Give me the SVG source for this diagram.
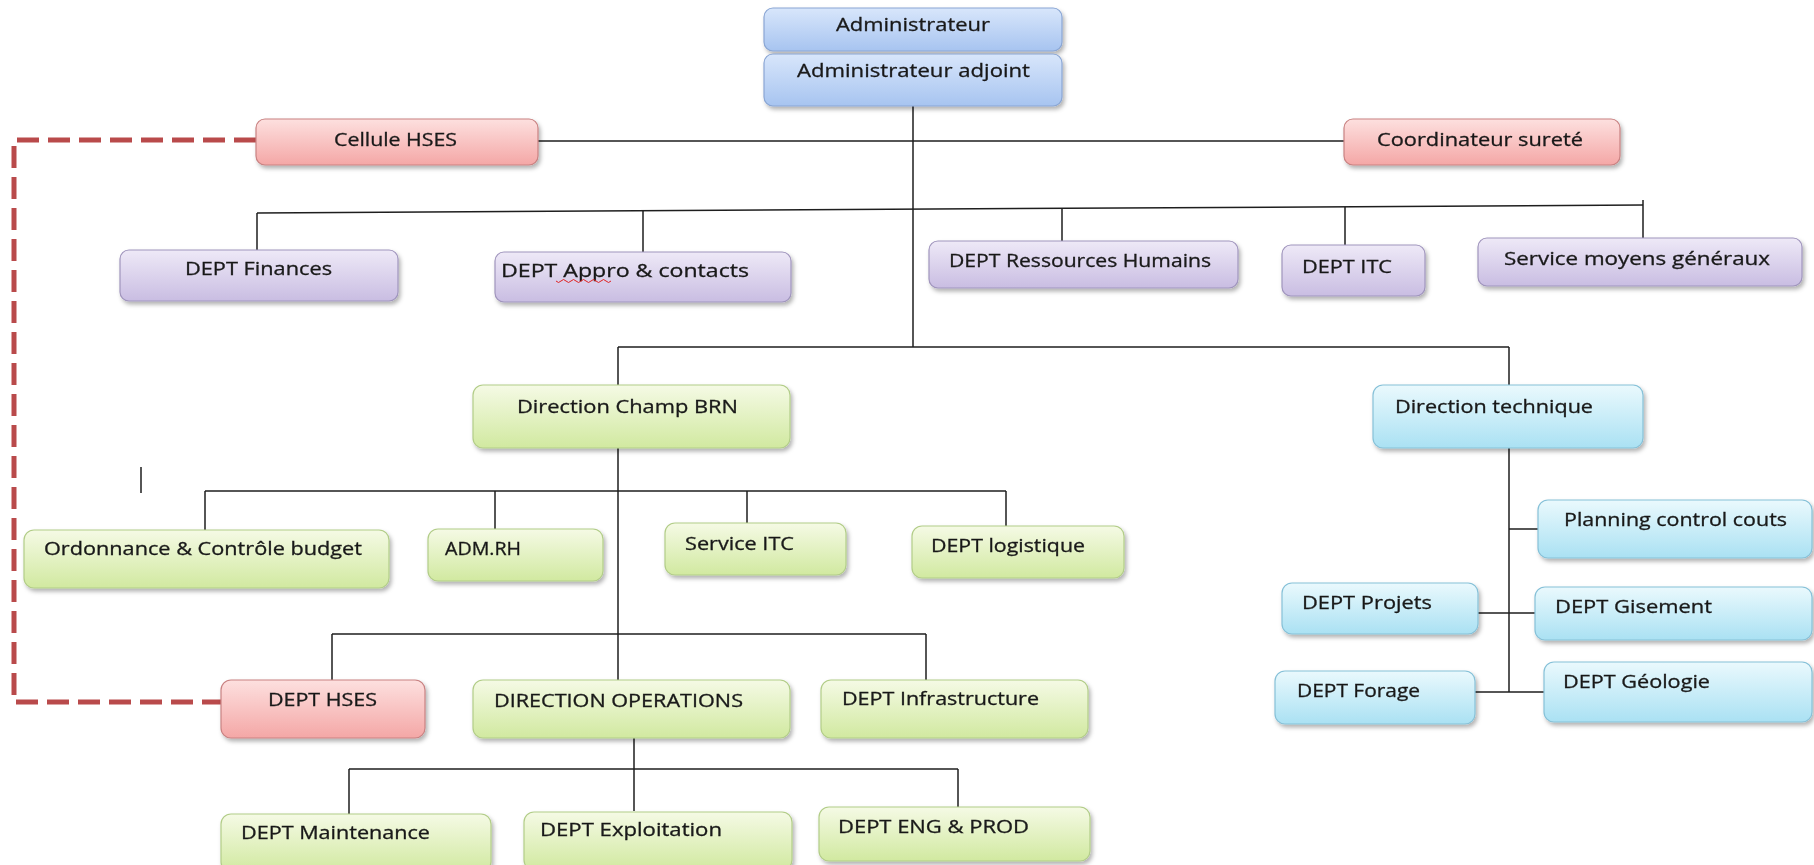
<svg xmlns="http://www.w3.org/2000/svg" width="1814" height="865" viewBox="0 0 1814 865">
<style>
.n rect{stroke-width:1.2}
.t{font-family:"Open Sans","DejaVu Sans",sans-serif;font-size:18px;fill:#1a1a1a;stroke:#1a1a1a;stroke-width:0.3}
.blue rect{fill:url(#gBlue);stroke:#8aa6d4}
.red rect{fill:url(#gRed);stroke:#c98282}
.pur rect{fill:url(#gPur);stroke:#a095bd}
.grn rect{fill:url(#gGrn);stroke:#b2cd88}
.cyn rect{fill:url(#gCyn);stroke:#86c1d8}
#connectors path{fill:none;stroke:#1e1e1e;stroke-width:1.5}
#connectors path.dash{stroke:#b94a4b;stroke-width:5;stroke-dasharray:22 9}
</style>
<defs>
<linearGradient id="gBlue" x1="0" y1="0" x2="0" y2="1"><stop offset="0" stop-color="#d8e6fb"/><stop offset="1" stop-color="#a7c4f0"/></linearGradient>
<linearGradient id="gRed" x1="0" y1="0" x2="0" y2="1"><stop offset="0" stop-color="#fde0df"/><stop offset="1" stop-color="#f4a7a6"/></linearGradient>
<linearGradient id="gPur" x1="0" y1="0" x2="0" y2="1"><stop offset="0" stop-color="#eee9f7"/><stop offset="1" stop-color="#c9bde2"/></linearGradient>
<linearGradient id="gGrn" x1="0" y1="0" x2="0" y2="1"><stop offset="0" stop-color="#f5fae5"/><stop offset="1" stop-color="#d1e9a0"/></linearGradient>
<linearGradient id="gCyn" x1="0" y1="0" x2="0" y2="1"><stop offset="0" stop-color="#eaf9fd"/><stop offset="1" stop-color="#aae1f3"/></linearGradient>
<filter id="sh" x="-10%" y="-20%" width="125%" height="160%"><feDropShadow dx="2" dy="3" stdDeviation="2.2" flood-color="#000" flood-opacity="0.3"/></filter>
</defs>
<rect width="1814" height="865" fill="#ffffff"/>

<g id="connectors">
<path d="M913 106V347"/>
<path d="M538 141H1344"/>
<path d="M257 213L1643 205"/>
<path d="M257 213V250"/>
<path d="M643 211V252"/>
<path d="M1062 208V241"/>
<path d="M1345 207V245"/>
<path d="M1643 200V238"/>
<path d="M618 347H1509"/>
<path d="M618 347V385"/>
<path d="M1509 347V385"/>
<path d="M618 448V680"/>
<path d="M205 491H1006"/>
<path d="M205 491V530"/>
<path d="M495 491V529"/>
<path d="M747 491V523"/>
<path d="M1006 491V526"/>
<path d="M141 467V493"/>
<path d="M332 634H926"/>
<path d="M332 634V680"/>
<path d="M926 634V680"/>
<path d="M1509 448V692"/>
<path d="M1509 529H1538"/>
<path d="M1478 613H1535"/>
<path d="M1475 692H1544"/>
<path d="M634 738V811"/>
<path d="M349 769H958"/>
<path d="M349 769V814"/>
<path d="M958 769V807"/>
<path class="dash" d="M256 140H14V702H221"/>
</g>

<g id="admin" class="n blue" filter="url(#sh)"><rect x="764" y="8" width="298" height="43" rx="9"/><text class="t" x="836" y="31" textLength="154" lengthAdjust="spacingAndGlyphs">Administrateur</text></g>
<g id="adjoint" class="n blue" filter="url(#sh)"><rect x="764" y="54" width="298" height="52" rx="9"/><text class="t" x="797" y="77" textLength="233" lengthAdjust="spacingAndGlyphs">Administrateur adjoint</text></g>
<g id="cellule" class="n red" filter="url(#sh)"><rect x="256" y="119" width="282" height="46" rx="9"/><text class="t" x="334" y="146" textLength="123" lengthAdjust="spacingAndGlyphs">Cellule HSES</text></g>
<g id="coord" class="n red" filter="url(#sh)"><rect x="1344" y="119" width="276" height="46" rx="9"/><text class="t" x="1377" y="146" textLength="206" lengthAdjust="spacingAndGlyphs">Coordinateur sureté</text></g>

<g id="finances" class="n pur" filter="url(#sh)"><rect x="120" y="250" width="278" height="51" rx="9"/><text class="t" x="185" y="275" textLength="147" lengthAdjust="spacingAndGlyphs">DEPT Finances</text></g>
<g id="appro" class="n pur" filter="url(#sh)"><rect x="495" y="252" width="296" height="50" rx="9"/><text class="t" x="501" y="277" textLength="248" lengthAdjust="spacingAndGlyphs">DEPT Appro &amp; contacts</text><path d="M556 281q2.5 3 5 0t5 0t5 0t5 0t5 0t5 0t5 0t5 0t5 0t5 0t5 0" fill="none" stroke="#e02020" stroke-width="1"/></g>
<g id="rh" class="n pur" filter="url(#sh)"><rect x="929" y="241" width="309" height="47" rx="9"/><text class="t" x="949" y="267" textLength="262" lengthAdjust="spacingAndGlyphs">DEPT Ressources Humains</text></g>
<g id="itc" class="n pur" filter="url(#sh)"><rect x="1282" y="245" width="143" height="51" rx="9"/><text class="t" x="1302" y="273" textLength="90" lengthAdjust="spacingAndGlyphs">DEPT ITC</text></g>
<g id="smg" class="n pur" filter="url(#sh)"><rect x="1478" y="238" width="324" height="48" rx="9"/><text class="t" x="1504" y="265" textLength="266" lengthAdjust="spacingAndGlyphs">Service moyens généraux</text></g>

<g id="dcbrn" class="n grn" filter="url(#sh)"><rect x="473" y="385" width="317" height="63" rx="10"/><text class="t" x="517" y="413" textLength="221" lengthAdjust="spacingAndGlyphs">Direction Champ BRN</text></g>
<g id="dtech" class="n cyn" filter="url(#sh)"><rect x="1373" y="385" width="270" height="63" rx="10"/><text class="t" x="1395" y="413" textLength="198" lengthAdjust="spacingAndGlyphs">Direction technique</text></g>

<g id="ordo" class="n grn" filter="url(#sh)"><rect x="24" y="530" width="365" height="58" rx="10"/><text class="t" x="44" y="555" textLength="318" lengthAdjust="spacingAndGlyphs">Ordonnance &amp; Contrôle budget</text></g>
<g id="admrh" class="n grn" filter="url(#sh)"><rect x="428" y="529" width="175" height="52" rx="10"/><text class="t" x="445" y="555" textLength="76" lengthAdjust="spacingAndGlyphs">ADM.RH</text></g>
<g id="sitc" class="n grn" filter="url(#sh)"><rect x="665" y="523" width="181" height="52" rx="10"/><text class="t" x="685" y="550" textLength="109" lengthAdjust="spacingAndGlyphs">Service ITC</text></g>
<g id="logi" class="n grn" filter="url(#sh)"><rect x="912" y="526" width="212" height="52" rx="10"/><text class="t" x="931" y="552" textLength="154" lengthAdjust="spacingAndGlyphs">DEPT logistique</text></g>

<g id="planning" class="n cyn" filter="url(#sh)"><rect x="1538" y="500" width="274" height="58" rx="10"/><text class="t" x="1564" y="526" textLength="223" lengthAdjust="spacingAndGlyphs">Planning control couts</text></g>
<g id="projets" class="n cyn" filter="url(#sh)"><rect x="1282" y="583" width="196" height="51" rx="10"/><text class="t" x="1302" y="609" textLength="130" lengthAdjust="spacingAndGlyphs">DEPT Projets</text></g>
<g id="gisement" class="n cyn" filter="url(#sh)"><rect x="1535" y="587" width="277" height="53" rx="10"/><text class="t" x="1555" y="613" textLength="157" lengthAdjust="spacingAndGlyphs">DEPT Gisement</text></g>
<g id="forage" class="n cyn" filter="url(#sh)"><rect x="1275" y="671" width="200" height="53" rx="10"/><text class="t" x="1297" y="697" textLength="123" lengthAdjust="spacingAndGlyphs">DEPT Forage</text></g>
<g id="geologie" class="n cyn" filter="url(#sh)"><rect x="1544" y="662" width="268" height="60" rx="10"/><text class="t" x="1563" y="688" textLength="147" lengthAdjust="spacingAndGlyphs">DEPT Géologie</text></g>

<g id="dhses" class="n red" filter="url(#sh)"><rect x="221" y="680" width="204" height="58" rx="10"/><text class="t" x="268" y="706" textLength="109" lengthAdjust="spacingAndGlyphs">DEPT HSES</text></g>
<g id="dirops" class="n grn" filter="url(#sh)"><rect x="473" y="680" width="317" height="58" rx="10"/><text class="t" x="494" y="707" textLength="249" lengthAdjust="spacingAndGlyphs">DIRECTION OPERATIONS</text></g>
<g id="infra" class="n grn" filter="url(#sh)"><rect x="821" y="680" width="267" height="58" rx="10"/><text class="t" x="842" y="705" textLength="197" lengthAdjust="spacingAndGlyphs">DEPT Infrastructure</text></g>

<g id="maint" class="n grn" filter="url(#sh)"><rect x="221" y="814" width="270" height="58" rx="10"/><text class="t" x="241" y="839" textLength="189" lengthAdjust="spacingAndGlyphs">DEPT Maintenance</text></g>
<g id="exploit" class="n grn" filter="url(#sh)"><rect x="524" y="812" width="268" height="58" rx="10"/><text class="t" x="540" y="836" textLength="182" lengthAdjust="spacingAndGlyphs">DEPT Exploitation</text></g>
<g id="eng" class="n grn" filter="url(#sh)"><rect x="819" y="807" width="271" height="54" rx="10"/><text class="t" x="838" y="833" textLength="191" lengthAdjust="spacingAndGlyphs">DEPT ENG &amp; PROD</text></g>
</svg>
